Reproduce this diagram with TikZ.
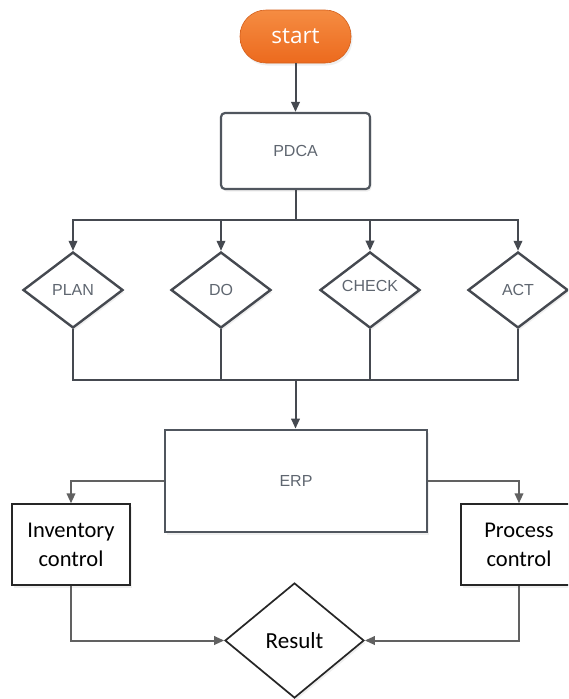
\documentclass[tikz,border=0pt]{standalone}
\usepackage{fontspec}
\setmainfont{Liberation Sans}
\newfontfamily\calfont{Carlito}
\newfontfamily\openfont{Open Sans}
\usetikzlibrary{shapes.geometric,arrows.meta,shadows}
\definecolor{linec}{HTML}{454950}
\definecolor{boxc}{HTML}{50565E}
\definecolor{txtc}{HTML}{5F6670}
\definecolor{orangetop}{HTML}{F58C42}
\definecolor{orangebot}{HTML}{EC6A1E}
\tikzset{
  conn/.style={draw=linec, line width=2pt},
  arr/.style={conn, -{Triangle[length=10pt,width=8.5pt]}},
  soft/.style={drop shadow={opacity=0.12, shadow xshift=1.5pt, shadow yshift=-2.5pt}},
  pill/.style={rectangle, rounded corners=26pt, minimum width=111pt, minimum height=53pt,
    top color=orangetop, bottom color=orangebot, draw=orangebot!90!black, line width=0.6pt,
    text=white, font=\openfont\fontsize{22.5}{26}\selectfont, soft},
  rbox/.style={rectangle, rounded corners=4pt, draw=boxc, line width=2.2pt, fill=white,
    text=txtc, font=\fontsize{16}{19}\selectfont, soft},
  sbox/.style={rectangle, draw=boxc, line width=2.8pt, fill=white,
    text=txtc, font=\fontsize{16}{19}\selectfont, soft},
  dia/.style={diamond, draw=linec, line width=2.4pt, fill=white, inner sep=0pt,
    minimum width=100pt, minimum height=76pt, text=txtc, font=\fontsize{16}{19}\selectfont, soft},
  cbox/.style={rectangle, draw=black!85, line width=1.3pt, fill=white, align=center,
    font=\calfont\fontsize{22.5}{29}\selectfont, soft},
  rdia/.style={diamond, draw=black!85, line width=1.7pt, fill=white, inner sep=0pt,
    minimum width=139pt, minimum height=115pt, font=\calfont\fontsize{23}{27}\selectfont, soft},
}
\begin{document}
\begin{tikzpicture}[x=1pt,y=-1pt]
\clip (0,0) rectangle (568,699);
\fill[white] (0,0) rectangle (568,699);

\node[pill] (start) at (295.5,36.5) {start};
\node[rbox, minimum width=149pt, minimum height=76pt] (pdca) at (295.5,151) {PDCA};

\node[dia] (plan) at (73,290) {PLAN};
\node[dia] (do) at (221,290) {DO};
\node[dia, text depth=9pt] (check) at (370,290) {CHECK};
\node[dia] (act) at (518,290) {ACT};

\node[sbox, minimum width=262pt, minimum height=102pt] (erp) at (296,481) {ERP};

\node[cbox, minimum width=118pt, minimum height=81pt] (inv) at (71,544.5) {Inventory\\control};
\node[cbox, minimum width=116pt, minimum height=81pt] (proc) at (519,544.5) {Process\\control};

\node[rdia] (res) at (294.5,640.5) {Result};

\coordinate (bus1) at (295.5,220);
\coordinate (bus2) at (295.5,380);

\draw[arr] (start) -- (pdca);
\draw[conn] (pdca) -- (bus1);
\draw[arr] (bus1) -| (plan.north);
\draw[arr] (bus1) -| (do.north);
\draw[arr] (bus1) -| (check.north);
\draw[arr] (bus1) -| (act.north);

\draw[conn] (plan.south) |- (bus2);
\draw[conn] (do.south) |- (bus2);
\draw[conn] (check.south) |- (bus2);
\draw[conn] (act.south) |- (bus2);
\draw[arr] (bus2) -- (erp.north -| bus2);

\draw[arr, draw=black!62] (erp.west) -| (inv.north);
\draw[arr, draw=black!62] (erp.east) -| (proc.north);
\draw[arr, draw=black!62] (inv.south) |- (res.west);
\draw[arr, draw=black!62] (proc.south) |- (res.east);
\end{tikzpicture}
\end{document}
